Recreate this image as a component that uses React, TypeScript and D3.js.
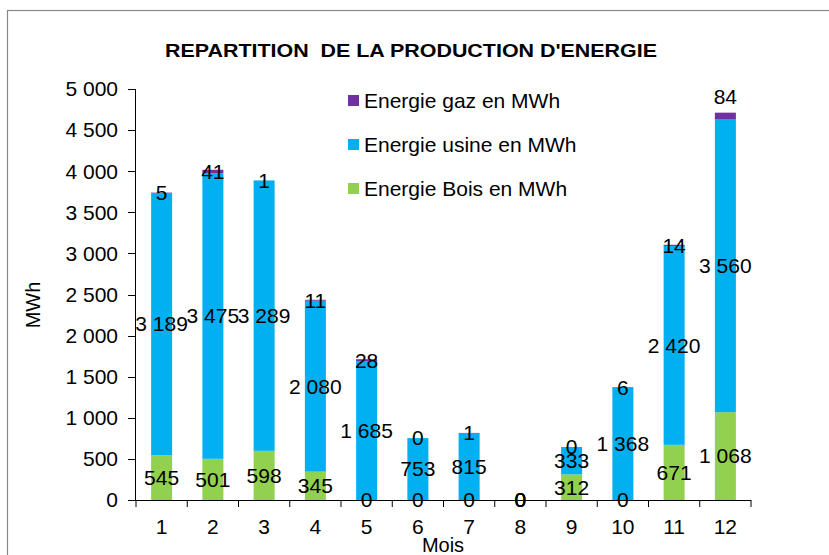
import React from "react";
import * as d3 from "d3";

const months = ["1", "2", "3", "4", "5", "6", "7", "8", "9", "10", "11", "12"];
const bois = [545, 501, 598, 345, 0, 0, 0, 0, 312, 0, 671, 1068];
const usine = [3189, 3475, 3289, 2080, 1685, 753, 815, 0, 333, 1368, 2420, 3560];
const gaz = [5, 41, 1, 11, 28, 0, 1, 0, 0, 6, 14, 84];
const yTicks = [0, 500, 1000, 1500, 2000, 2500, 3000, 3500, 4000, 4500, 5000];
const seriesNames = ["Energie gaz en MWh", "Energie usine en MWh", "Energie Bois en MWh"];
const title = "REPARTITION  DE LA PRODUCTION D'ENERGIE";

const colors: Record<string, string> = {
  bois: "#92D050",
  usine: "#00B0F0",
  gaz: "#7030A0",
};

const fmt = (v: number) => d3.format(",")(v).replace(/,/g, " ");

export default function App() {
  const W = 829, H = 555;
  const x = d3.scaleBand<string>().domain(months).range([136, 751]).paddingInner(0.59).paddingOuter(0.295);
  const y = d3.scaleLinear().domain([0, 5000]).range([500, 89]);
  const rows = months.map((m, i) => ({ m, bois: bois[i], usine: usine[i], gaz: gaz[i] }));
  const stack = d3.stack<any>().keys(["bois", "usine", "gaz"]);
  const series = stack(rows);
  const font = "Arial, 'Liberation Sans', sans-serif";
  const fs = 21;
  const step = x.step();
  const legendKeys = ["gaz", "usine", "bois"];

  return (
    <svg width={W} height={H} style={{ position: "absolute", left: 0, top: 0, background: "#fff" }} fontFamily={font}>
      <rect x={7.5} y={10.5} width={900} height={700} fill="#fff" stroke="#888" strokeWidth={1.2} />
      <text x={411} y={57} textAnchor="middle" fontWeight="bold" fontSize={19} textLength={492} lengthAdjust="spacingAndGlyphs" style={{ whiteSpace: "pre" }}>{title}</text>

      {series.map((s) => (
        <g key={s.key} fill={colors[s.key]}>
          {s.map((d, i) => (
            <rect key={i} x={x(months[i])!} width={x.bandwidth()} y={y(d[1])} height={Math.max(0, y(d[0]) - y(d[1]))} />
          ))}
        </g>
      ))}

      {/* axes */}
      <line x1={135.5} x2={135.5} y1={y(5000)} y2={500} stroke="#000" />
      <line x1={135.5} x2={751} y1={500.5} y2={500.5} stroke="#000" />
      {yTicks.map((t) => (
        <g key={t}>
          <line x1={128} x2={135.5} y1={Math.round(y(t)) + 0.5} y2={Math.round(y(t)) + 0.5} stroke="#000" />
          <text x={118} y={y(t)} dy="0.35em" textAnchor="end" fontSize={fs}>{fmt(t)}</text>
        </g>
      ))}
      {months.map((m, i) => {
        const bx = 136 + i * step;
        return (
          <g key={m}>
            <line x1={bx + step} x2={bx + step} y1={500} y2={507} stroke="#000" />
            <text x={x(m)! + x.bandwidth() / 2} y={527} dy="0.35em" textAnchor="middle" fontSize={fs}>{m}</text>
          </g>
        );
      })}
      <line x1={136} x2={136} y1={500} y2={507} stroke="#000" />

      {/* data labels */}
      {series.map((s) =>
        s.map((d, i) => {
          const cy = (y(d[0]) + y(d[1])) / 2 - (s.key === "gaz" && i === 11 ? 19 : 0);
          return (
            <text key={s.key + i} x={x(months[i])! + x.bandwidth() / 2} y={cy} dy="0.35em" textAnchor="middle" fontSize={fs}>
              {fmt(d[1] - d[0])}
            </text>
          );
        })
      )}

      {/* axis titles */}
      <text transform={`translate(40,305) rotate(-90)`} textAnchor="middle" fontSize={20}>MWh</text>
      <text x={443} y={545} dy="0.35em" textAnchor="middle" fontSize={20}>Mois</text>

      {/* legend */}
      {legendKeys.map((k, i) => (
        <g key={k} transform={`translate(348,${95 + i * 44})`}>
          <rect width={11} height={11} fill={colors[k]} />
          <text x={16} y={5.5} dy="0.35em" fontSize={fs}>{seriesNames[i]}</text>
        </g>
      ))}
    </svg>
  );
}
